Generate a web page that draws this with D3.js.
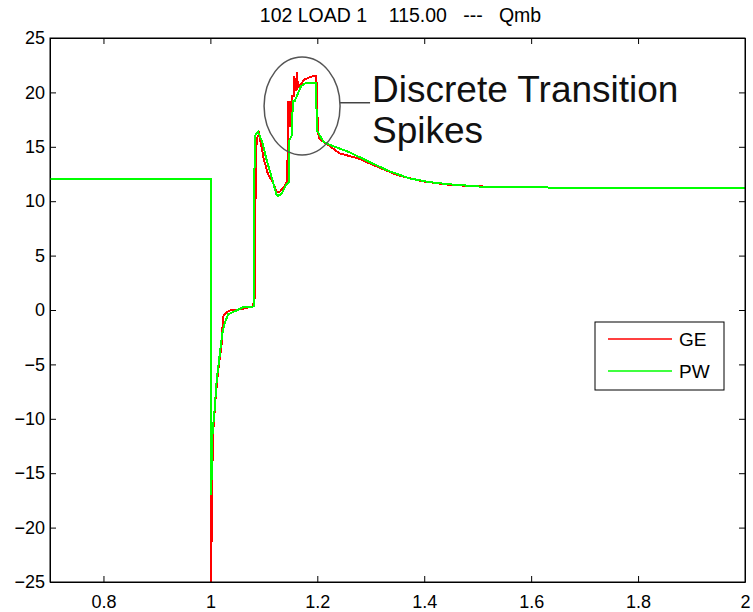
<!DOCTYPE html>
<html>
	<head>
		<meta charset=utf-8>
		<title>Qmb</title>
		<style type="text/css">
			body { margin: 0; background: #fff; }
			text { font-family: Arial, "Liberation Sans", Helvetica, sans-serif; }
			.axis text { font-size: 18px; fill: #000; }
			.axis line, .axis path { stroke: #000; }
			.trace { fill: none; stroke-width: 2; shape-rendering: crispEdges; }
		</style>
		<script src="https://cdnjs.cloudflare.com/ajax/libs/d3/7.8.5/d3.min.js"></script>
	</head>
	<body>
		<script>
			// GE run (red)
			var timeGE = [0.7, 1.0016, 1.0016, 1.0022, 1.0028, 1.0034, 1.0045, 1.0091, 1.0119, 1.0147, 1.0185, 1.0213,
				1.0237, 1.0300, 1.0394, 1.0549, 1.0674, 1.0797, 1.0829, 1.0848, 1.0866, 1.0909, 1.0953, 1.0997, 1.1077,
				1.1171, 1.1234, 1.1296, 1.1389, 1.1440, 1.1451, 1.1483, 1.1483, 1.1526, 1.1526, 1.1557, 1.1557, 1.1595,
				1.1619, 1.1638, 1.1763, 1.1918, 1.1981, 1.1992, 1.2011, 1.2043, 1.2168, 1.2416, 1.2790, 1.3009, 1.3500,
				1.3943, 1.4471, 1.5093, 1.5536];
			var qmbGE = [12.0, 12.0, -25.0, -16.1, -21.3, -16.5, -11.65, -8.5, -6.9, -5.5, -4.1, -3.0,
				-0.6, -0.2, 0.0, 0.05, 0.2, 0.35, 1.15, 12.5, 15.7, 16.2, 15.1, 13.9, 12.5,
				11.7, 10.9, 10.85, 11.4, 11.9, 19.1, 19.1, 16.9, 16.9, 19.7, 19.7, 21.5, 20.15,
				21.85, 20.45, 21.2, 21.5, 21.5, 20.0, 16.3, 15.7, 15.3, 14.4, 13.9, 13.4, 12.4,
				11.85, 11.5, 11.35, 11.35];

			// PW run (green)
			var timePW = [0.7, 1.0016, 1.0016, 1.0035, 1.0082, 1.0119, 1.0175, 1.0226, 1.0259, 1.0330, 1.0487, 1.0605,
				1.0786, 1.0810, 1.0829, 1.0891, 1.0973, 1.1048, 1.1141, 1.1234, 1.1264, 1.1328, 1.1421, 1.1470,
				1.1470, 1.1520, 1.1544, 1.1576, 1.1701, 1.1795, 1.1968, 1.2000, 1.2105, 1.2168, 1.2603, 1.2977,
				1.3350, 1.3724, 1.4097, 1.4471, 1.5031, 1.5778, 1.7273, 2.0];
			var qmbPW = [12.0, 12.0, -17.0, -11.65, -9.0, -6.4, -4.1, -2.1, -1.35, -0.4, -0.05, 0.25,
				0.3, 0.35, 16.0, 16.4, 15.4, 13.85, 12.3, 10.65, 10.5, 10.65, 11.55, 11.75,
				15.55, 16.0, 19.2, 19.2, 20.6, 20.9, 20.9, 16.45, 15.55, 15.3, 14.5, 13.6,
				12.75, 12.1, 11.75, 11.55, 11.35, 11.28, 11.22, 11.2];

			var xTicks = [0.8, 1.0, 1.2, 1.4, 1.6, 1.8, 2.0];
			var yTicks = [-25, -20, -15, -10, -5, 0, 5, 10, 15, 20, 25];
			var seriesNames = ["GE", "PW"];
			var seriesColors = ["#ff0000", "#00ff00"];
			var titleText = "102 LOAD 1    115.00   ---   Qmb";

			//svg size and margins
			var margin = {top: 38, right: 8, bottom: 30, left: 50},
				width = 753 - margin.left - margin.right,
				height = 612 - margin.top - margin.bottom;

			var x = d3.scaleLinear().domain([0.7, 2.0]).range([0, width]);
			var y = d3.scaleLinear().domain([-25, 25]).range([height, 0]);

			var svg = d3.select("body").append("svg")
				.attr("width", 753)
				.attr("height", 612)
				.append("g")
				.attr("transform", "translate(" + margin.left + "," + margin.top + ")");

			// title
			svg.append("text")
				.attr("x", width / 2 + 3)
				.attr("y", -16)
				.style("font-size", "19.5px")
				.style("white-space", "pre")
				.attr("text-anchor", "middle")
				.text(titleText);

			// inward ticks on all four sides, MATLAB style
			svg.append("g").attr("class", "axis")
				.attr("transform", "translate(0," + height + ")")
				.call(d3.axisBottom(x).tickValues(xTicks).tickFormat(d3.format("~g"))
					.tickSizeInner(-6).tickSizeOuter(0).tickPadding(13));
			svg.append("g").attr("class", "axis")
				.call(d3.axisTop(x).tickValues(xTicks).tickFormat("")
					.tickSizeInner(-6).tickSizeOuter(0));
			svg.append("g").attr("class", "axis")
				.call(d3.axisLeft(y).tickValues(yTicks)
					.tickSizeInner(-6).tickSizeOuter(0).tickPadding(5));
			svg.append("g").attr("class", "axis")
				.attr("transform", "translate(" + width + ",0)")
				.call(d3.axisRight(y).tickValues(yTicks).tickFormat("")
					.tickSizeInner(-6).tickSizeOuter(0));

			svg.append("defs").append("clipPath").attr("id", "clip")
				.append("rect").attr("width", width).attr("height", height);

			var line = d3.line()
				.x(function(d) { return x(d[0]); })
				.y(function(d) { return y(d[1]); });

			var ge = timeGE.map(function(t, i) { return [t, qmbGE[i]]; });
			var pw = timePW.map(function(t, i) { return [t, qmbPW[i]]; });

			var plot = svg.append("g").attr("clip-path", "url(#clip)");
			plot.append("path")
				.attr("class", "trace")
				.attr("d", line(ge))
				.style("stroke", seriesColors[0]);
			plot.append("path")
				.attr("class", "trace")
				.attr("d", line(pw))
				.style("stroke", seriesColors[1]);

			// annotation: ellipse round the spikes
			var cx = x(1.1715), cy = y(18.75), ly = y(19.05);
			svg.append("ellipse")
				.attr("cx", cx).attr("cy", cy)
				.attr("rx", 38).attr("ry", 49)
				.style("fill", "none")
				.style("stroke", "#555")
				.style("stroke-width", 1.5);
			svg.append("line")
				.attr("x1", cx + 38).attr("x2", cx + 68)
				.attr("y1", ly).attr("y2", ly)
				.style("stroke", "#444")
				.style("stroke-width", 1.5);
			var note = svg.append("text")
				.attr("x", cx + 70)
				.attr("y", ly - 1)
				.style("font-size", "37px")
				.style("fill", "#111");
			note.append("tspan").attr("x", cx + 70).text("Discrete Transition");
			note.append("tspan").attr("x", cx + 70).attr("dy", 41).text("Spikes");

			// frame
			svg.append("rect")
				.attr("width", width).attr("height", height)
				.style("fill", "none").style("stroke", "#000");

			// legend
			var legend = svg.append("g")
				.attr("transform", "translate(" + (595 - margin.left) + "," + (322 - margin.top) + ")");
			legend.append("rect")
				.attr("width", 129).attr("height", 68)
				.style("fill", "#fff").style("stroke", "#000");
			seriesNames.forEach(function(name, i) {
				var ry = 17 + i * 32;
				legend.append("line")
					.attr("x1", 13).attr("x2", 77)
					.attr("y1", ry).attr("y2", ry)
					.style("stroke", seriesColors[i])
					.style("stroke-width", 1.6);
				legend.append("text")
					.attr("x", 84).attr("y", ry + 7)
					.style("font-size", "19px")
					.text(name);
			});
		</script>
	</body>
</html>
